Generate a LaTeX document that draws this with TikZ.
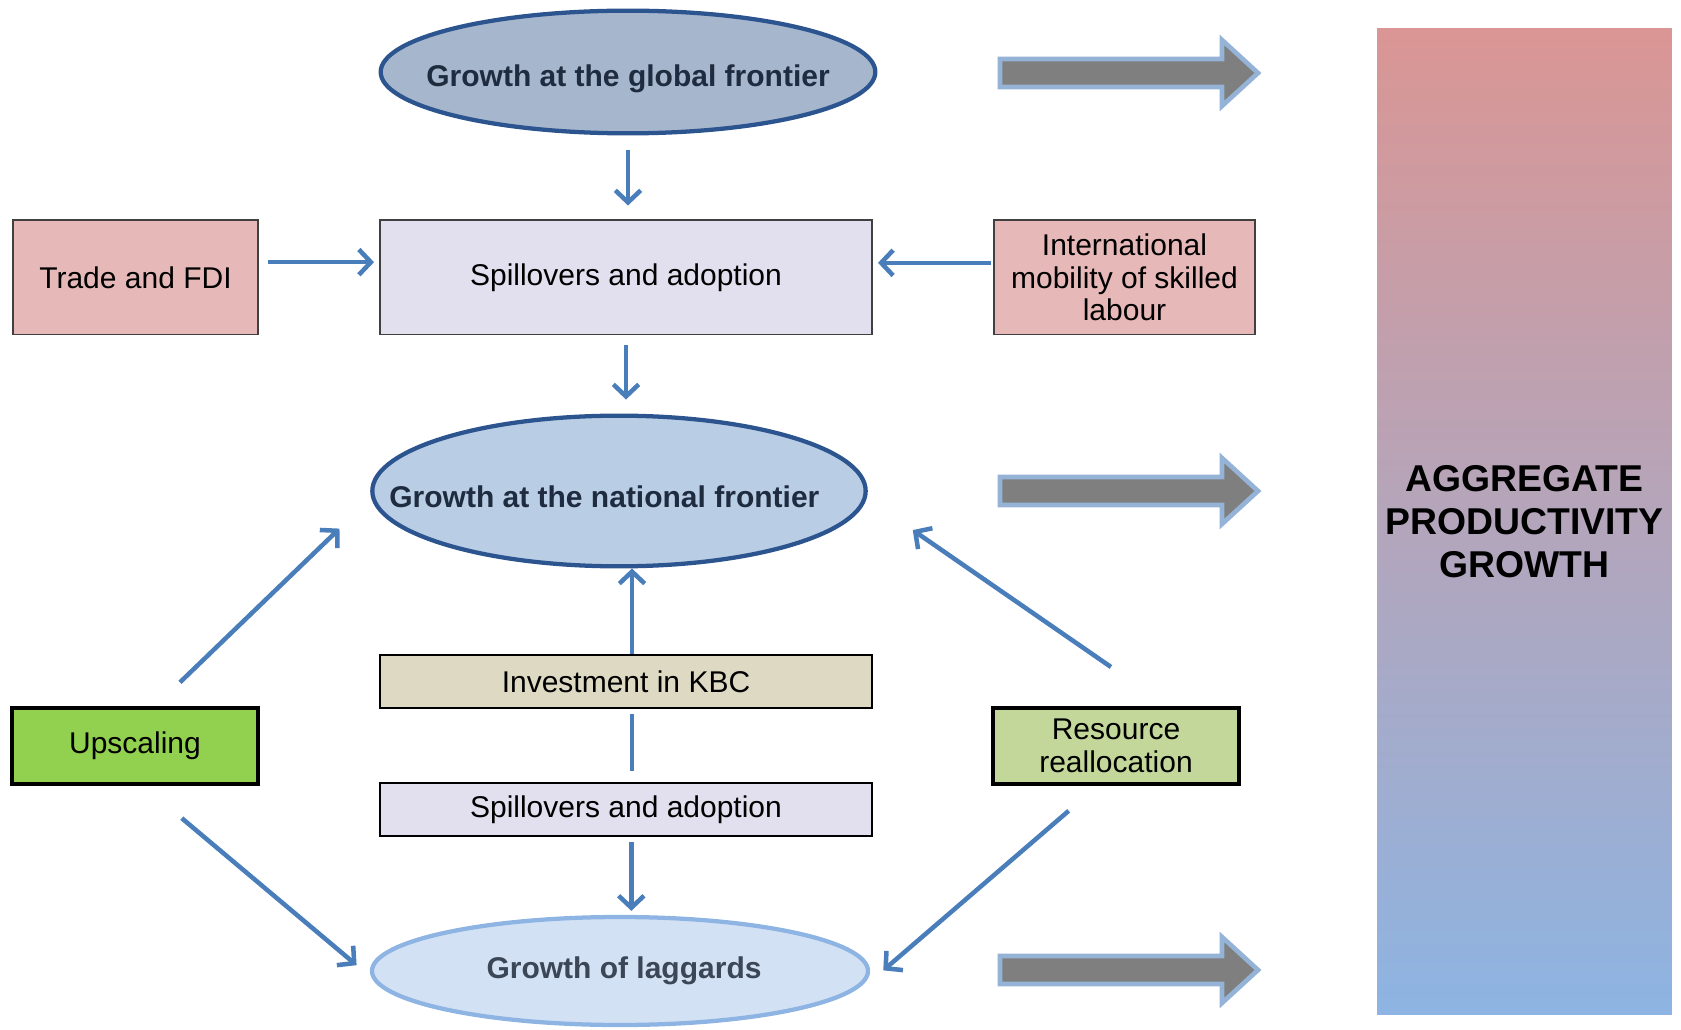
\documentclass[tikz,border=0pt]{standalone}
\usepackage{fontspec}
\setmainfont{Liberation Sans}
\usetikzlibrary{shapes.geometric,arrows.meta}

\definecolor{globalfill}{HTML}{A6B6CD}
\definecolor{natfill}{HTML}{B9CDE5}
\definecolor{lagfill}{HTML}{D3E1F4}
\definecolor{ovalrim}{HTML}{2C5590}
\definecolor{lagrim}{HTML}{8DB4E2}
\definecolor{ovaltext}{HTML}{1F2B3E}
\definecolor{lagtext}{HTML}{3B4656}
\definecolor{tradefill}{HTML}{E6B8B7}
\definecolor{spillfill}{HTML}{E2DFEE}
\definecolor{kbcfill}{HTML}{DDD9C3}
\definecolor{upfill}{HTML}{92D050}
\definecolor{resfill}{HTML}{C4D79B}
\definecolor{boxline}{HTML}{404040}
\definecolor{flowblue}{HTML}{4A7EBB}
\definecolor{arrowgray}{HTML}{7F7F7F}
\definecolor{arrowrim}{HTML}{95B3D7}
\definecolor{aggtop}{HTML}{DA9694}
\definecolor{aggbottom}{HTML}{8DB4E2}

\tikzset{
  oval/.style={ellipse, inner sep=0pt, line width=3.2pt, text=ovaltext,
    font=\fontsize{22.5}{27}\selectfont\bfseries},
  box/.style={rectangle, draw=boxline, line width=1pt, align=center, inner sep=0pt,
    font=\fontsize{22.5}{24.5}\selectfont},
  flow/.style={draw=flowblue, line width=3.4pt, -{Straight Barb[length=9pt,width=19pt]}},
  link/.style={draw=flowblue, line width=3.4pt},
  blockarrow/.style={fill=arrowgray, draw=arrowrim, line width=3.5pt},
}

\begin{document}
\begin{tikzpicture}[x=0.75pt,y=0.75pt,yscale=-1,xscale=1]
\useasboundingbox (0,0) rectangle (1681,1030);

%Shape: Ellipse
\node (glob) at (628,72) [oval, fill=globalfill, draw=ovalrim, minimum width=371pt, minimum height=92pt, text height=22pt, text depth=0pt] {\makebox[0pt]{Growth at the global frontier}};
%Shape: Ellipse
\node (nat) at (619,491) [oval, fill=natfill, draw=ovalrim, minimum width=370pt, minimum height=113pt, text height=24pt, text depth=0pt] {\makebox[0pt]{\kern-22pt Growth at the national frontier}};
%Shape: Ellipse
\node (lag) at (620,971) [oval, fill=lagfill, draw=lagrim, text=lagtext, minimum width=372pt, minimum height=81pt] {\makebox[0pt]{\kern6pt Growth of laggards}};

%Shape: Rectangle
\node (trade) at (135.5,277.5) [box, fill=tradefill, minimum width=183.75pt, minimum height=86pt] {Trade and FDI};
%Shape: Rectangle
\node (spillA) at (626,277.5) [box, fill=spillfill, minimum width=369pt, minimum height=86pt] {Spillovers and adoption};
%Shape: Rectangle
\node (intl) at (1124.5,277.5) [box, fill=tradefill, minimum width=195.75pt, minimum height=86pt] {International\\mobility of skilled\\labour};
%Shape: Rectangle
\node (kbc) at (626,681.5) [box, fill=kbcfill, draw=black, line width=1.8pt, minimum width=369pt, minimum height=39.75pt] {Investment in KBC};
%Shape: Rectangle
\node (spillB) at (626,809.5) [box, fill=spillfill, draw=black, line width=1.8pt, minimum width=369pt, minimum height=39.75pt] {Spillovers and adoption};
%Shape: Rectangle
\node (up) at (135,746) [box, fill=upfill, draw=black, line width=2.4pt, minimum width=184.5pt, minimum height=57pt] {Upscaling};
%Shape: Rectangle
\node (res) at (1116,746) [box, fill=resfill, draw=black, line width=2.4pt, minimum width=184.5pt, minimum height=57pt] {Resource\\reallocation};

%Shape: Rectangle
\node (agg) at (1524.5,521.5) [minimum width=221pt, minimum height=739pt, top color=aggtop, bottom color=aggbottom, inner sep=0pt, align=center, font=\fontsize{28}{32.25}\selectfont\bfseries] {AGGREGATE\\PRODUCTIVITY\\GROWTH};

%Straight Lines
\draw [flow, shorten <=11pt, shorten >=10.5pt] (glob.south) -- (glob.south |- spillA.north);
%Straight Lines
\draw [flow, shorten <=7pt, shorten >=4pt] ([yshift=-11.5pt]trade.east) -- ([yshift=-11.5pt]spillA.west);
%Straight Lines
\draw [flow, shorten <=1.5pt, shorten >=4pt] ([yshift=-11pt]intl.west) -- ([yshift=-11pt]spillA.east);
%Straight Lines
\draw [flow, shorten <=7.5pt, shorten >=10.5pt] (spillA.south) -- (spillA.south |- nat.north);
%Straight Lines
\draw [flow] ([xshift=4.5pt]kbc.north) -- ([xshift=4.5pt]kbc.north |- nat.south);
%Straight Lines
\draw [link, shorten <=3.75pt, shorten >=8pt] ([xshift=4.5pt]kbc.south) -- ([xshift=4.5pt]spillB.north);
%Straight Lines
\draw [flow, shorten <=3.75pt, shorten >=3pt] ([xshift=4pt]spillB.south) -- ([xshift=4pt]spillB.south |- lag.north);
%Straight Lines
\draw [flow, shorten <=26pt, shorten >=32pt] ([xshift=15pt]up.north) -- ([yshift=6pt]nat.west);
%Straight Lines
\draw [flow, shorten <=38pt, shorten >=13pt] ([xshift=6pt]up.south) -- ([yshift=4pt]lag.west);
%Straight Lines
\draw [flow, shorten <=52pt, shorten >=41pt] ([xshift=39pt]res.north) -- ([yshift=6pt]nat.east);
%Straight Lines
\draw [flow, shorten <=29pt, shorten >=13pt] ([xshift=-13.5pt]res.south) -- ([yshift=8pt]lag.east);

%Shape: Right Arrow
\draw [blockarrow] (1000,59) -- (1222,59) -- (1222,40) -- (1258,73) -- (1222,106) -- (1222,87) -- (1000,87) -- cycle ;
%Shape: Right Arrow
\draw [blockarrow] (1000,477) -- (1222,477) -- (1222,458) -- (1258,491) -- (1222,524) -- (1222,505) -- (1000,505) -- cycle ;
%Shape: Right Arrow
\draw [blockarrow] (1000,956) -- (1222,956) -- (1222,937) -- (1258,970) -- (1222,1003) -- (1222,984) -- (1000,984) -- cycle ;

\end{tikzpicture}
\end{document}
